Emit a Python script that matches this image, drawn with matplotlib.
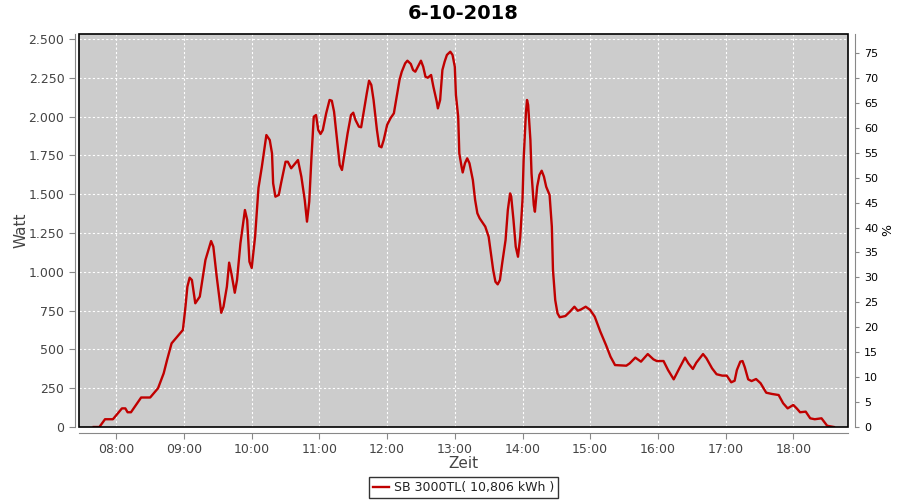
# Tagesertrag SB 3000TL am 6-10-2018
import matplotlib
matplotlib.use("Agg")
import matplotlib.pyplot as plt
from matplotlib.patches import Rectangle
from matplotlib.ticker import FuncFormatter, MultipleLocator

times = [
    "07:40", "07:45", "07:50", "07:57", "08:05", "08:08", "08:10", "08:13", "08:22", "08:30",
    "08:37", "08:42", "08:45", "08:49", "08:54", "08:59", "09:01", "09:03", "09:05", "09:07",
    "09:10", "09:14", "09:19", "09:24", "09:26", "09:29", "09:33", "09:35", "09:38", "09:40",
    "09:42", "09:45", "09:47", "09:50", "09:54", "09:56", "09:58", "10:00", "10:03", "10:06",
    "10:09", "10:13", "10:16", "10:18", "10:19", "10:21", "10:24", "10:26", "10:30", "10:32",
    "10:35", "10:41", "10:44", "10:47", "10:49", "10:51", "10:53", "10:55", "10:57", "10:59",
    "11:01", "11:03", "11:06", "11:09", "11:11", "11:13", "11:16", "11:18", "11:20", "11:22",
    "11:25", "11:28", "11:30", "11:32", "11:35", "11:37", "11:40", "11:42", "11:44", "11:46",
    "11:48", "11:51", "11:53", "11:55", "11:57", "12:00", "12:03", "12:06", "12:08", "12:11",
    "12:13", "12:16", "12:18", "12:21", "12:23", "12:25", "12:28", "12:30", "12:32", "12:34",
    "12:36", "12:39", "12:41", "12:44", "12:45", "12:47", "12:49", "12:51", "12:53", "12:56",
    "12:58", "13:00", "13:01", "13:03", "13:04", "13:06", "13:07", "13:09", "13:11", "13:13",
    "13:16", "13:18", "13:20", "13:22", "13:24", "13:27", "13:30", "13:32", "13:34", "13:36",
    "13:38", "13:40", "13:42", "13:45", "13:47", "13:49", "13:50", "13:52", "13:54", "13:56",
    "13:58", "14:00", "14:01", "14:03", "14:04", "14:05", "14:07", "14:08", "14:10", "14:11",
    "14:13", "14:15", "14:17", "14:19", "14:21", "14:24", "14:26", "14:27", "14:29", "14:31",
    "14:33", "14:38", "14:42", "14:46", "14:49", "14:52", "14:56", "15:00", "15:04", "15:09",
    "15:14", "15:18", "15:22", "15:32", "15:35", "15:40", "15:45", "15:51", "15:56", "15:59",
    "16:05", "16:09", "16:14", "16:19", "16:24", "16:27", "16:31", "16:34", "16:40", "16:43",
    "16:48", "16:52", "16:57", "17:01", "17:05", "17:08", "17:10", "17:13", "17:15", "17:17",
    "17:20", "17:23", "17:27", "17:31", "17:36", "17:41", "17:47", "17:51", "17:55", "18:00",
    "18:03", "18:06", "18:11", "18:15", "18:19", "18:25", "18:30", "18:36",
]
watt = [
    0, 0, 50, 50, 120, 120, 95, 95, 190, 190,
    250, 346, 432, 539, 582, 625, 754, 904, 962, 947,
    797, 840, 1076, 1198, 1162, 968, 736, 775, 904, 1059,
    990, 865, 947, 1183, 1398, 1334, 1065, 1025, 1226, 1540,
    1677, 1881, 1849, 1763, 1570, 1484, 1495, 1570, 1709, 1709,
    1667, 1720, 1613, 1463, 1323, 1452, 1742, 1999, 2010, 1913,
    1888, 1913, 2021, 2107, 2102, 2031, 1828, 1688, 1656, 1752,
    1892, 2010, 2025, 1978, 1935, 1931, 2064, 2150, 2231, 2204,
    2107, 1913, 1810, 1802, 1849, 1946, 1989, 2021, 2107, 2236,
    2289, 2343, 2360, 2339, 2300, 2289, 2332, 2360, 2321, 2257,
    2250, 2268, 2193, 2096, 2053, 2107, 2300, 2354, 2397, 2418,
    2397, 2321, 2139, 1999, 1763, 1677, 1640, 1699, 1731, 1699,
    1591, 1463, 1377, 1345, 1323, 1291, 1226, 1119, 1012, 936,
    919, 947, 1055, 1205, 1398, 1505, 1484, 1334, 1162, 1097,
    1226, 1463, 1720, 2021, 2107, 2075, 1849, 1634, 1430, 1387,
    1548, 1624, 1651, 1613, 1548, 1495, 1291, 1012, 818, 733,
    707, 715, 743, 775, 749, 758, 775, 754, 711, 614,
    528, 453, 399, 395, 410, 447, 421, 470, 436, 425,
    425, 367, 307, 378, 447, 410, 374, 414, 470, 443,
    378, 340, 331, 331, 288, 298, 367, 421, 425, 385,
    307, 296, 309, 282, 221, 213, 206, 153, 120, 142,
    120, 95, 99, 56, 50, 56, 8, 0,
]
hour_labels = ["08:00", "09:00", "10:00", "11:00", "12:00", "13:00",
               "14:00", "15:00", "16:00", "17:00", "18:00"]


def to_hours(t):
    h, m = t.split(":")
    return int(h) + int(m) / 60


x = [to_hours(t) for t in times]
hour_ticks = [to_hours(t) for t in hour_labels]

grey_txt = "#444444"
axis_grey = "#888888"

fig = plt.figure(figsize=(9, 5), dpi=100)
ax = fig.add_axes([79 / 900, 1 - 427 / 500, 769 / 900, 393 / 500])
ax.set_facecolor("#cccccc")

ax.plot(x, watt, color="#c00000", lw=1.7, label="SB 3000TL( 10,806 kWh )",
        solid_joinstyle="round")

ax.set_xlim(7.449, 18.808)
ax.set_ylim(0, 2532)
ax.set_xticks(hour_ticks)
ax.set_xticklabels(hour_labels)
ax.yaxis.set_major_locator(MultipleLocator(250))
ax.yaxis.set_major_formatter(FuncFormatter(lambda v, p: f"{v:,.0f}".replace(",", ".")))
ax.grid(True, color="white", linestyle=(0, (2, 2)), linewidth=0.8)

for side in ["top", "right"]:
    ax.spines[side].set_visible(False)
ax.spines["left"].set_position(("outward", 3))
ax.spines["bottom"].set_position(("outward", 4))
for side in ["left", "bottom"]:
    ax.spines[side].set_color(axis_grey)
ax.tick_params(colors=axis_grey, labelcolor=grey_txt, labelsize=9, length=4, width=0.8)

ax.add_patch(Rectangle((0, 0), 1, 1, transform=ax.transAxes, fill=False,
                       edgecolor="black", lw=1.2, zorder=5, clip_on=False))

ax.set_xlabel("Zeit", fontsize=11, color=grey_txt, labelpad=0)
ax.set_ylabel("Watt", fontsize=11, color=grey_txt, labelpad=0)
ax.set_title("6-10-2018", fontsize=14, fontweight="bold", pad=11)

# rechte Achse in Prozent
ax2 = ax.twinx()
ax2.set_ylim(0, 78.8)
ax2.yaxis.set_major_locator(MultipleLocator(5))
for side in ["top", "left", "bottom"]:
    ax2.spines[side].set_visible(False)
ax2.spines["right"].set_position(("outward", 5))
ax2.spines["right"].set_color(axis_grey)
ax2.tick_params(colors=axis_grey, labelcolor="black", labelsize=8, length=3, width=0.8)
ax2.set_ylabel("%", fontsize=9, color="black", labelpad=2)

leg = ax.legend(loc="upper center", bbox_to_anchor=(0.5, -0.128), fontsize=9,
                frameon=True, fancybox=False, handlelength=1.3, handletextpad=0.4,
                borderpad=0.3, borderaxespad=0)
leg.get_frame().set_edgecolor("black")
leg.get_frame().set_linewidth(1.0)
for t in leg.get_texts():
    t.set_color("#222222")

fig.savefig("out.png", dpi=100)
